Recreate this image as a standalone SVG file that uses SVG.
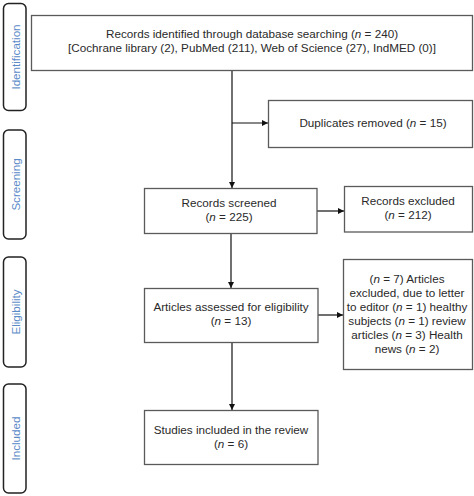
<svg xmlns="http://www.w3.org/2000/svg" width="474" height="496" viewBox="0 0 474 496">
<style>
.box{fill:#fff;stroke:#5a5a5a;stroke-width:1.3}
.side{fill:#fff;stroke:#222;stroke-width:1.5}
.t{font-family:"Liberation Sans",Arial,sans-serif;font-size:11.7px;fill:#2a2a2a;text-anchor:middle}
.s{font-family:"Liberation Sans",Arial,sans-serif;font-size:11.6px;fill:#5b8ac8;text-anchor:middle}
.c{stroke:#111;stroke-width:1.2;fill:none}
</style>
<defs>
<marker id="ah" viewBox="0 0 8 8" refX="8" refY="4" markerWidth="6" markerHeight="6" orient="auto" markerUnits="userSpaceOnUse">
<path d="M0,0 L8,4 L0,8 Z" fill="#111"/>
</marker>
</defs>
<g id="stage-identification">
<rect class="side" x="3.5" y="3.5" width="22.5" height="107" rx="5"/>
<text class="s" transform="translate(19.5,57) rotate(-90)">Identification</text>
</g>
<g id="stage-screening">
<rect class="side" x="3.5" y="130" width="22.5" height="109" rx="5"/>
<text class="s" transform="translate(19.5,184.5) rotate(-90)">Screening</text>
</g>
<g id="stage-eligibility">
<rect class="side" x="3.5" y="257" width="22.5" height="110" rx="5"/>
<text class="s" transform="translate(19.5,312) rotate(-90)">Eligibility</text>
</g>
<g id="stage-included">
<rect class="side" x="3.5" y="384" width="22.5" height="109" rx="5"/>
<text class="s" transform="translate(19.5,438.5) rotate(-90)">Included</text>
</g>
<g id="connectors">
<line class="c" x1="232" y1="70" x2="232" y2="188" marker-end="url(#ah)"/>
<line class="c" x1="232" y1="123" x2="268" y2="123" marker-end="url(#ah)"/>
<line class="c" x1="317" y1="211" x2="344" y2="211" marker-end="url(#ah)"/>
<line class="c" x1="231" y1="233" x2="231" y2="288" marker-end="url(#ah)"/>
<line class="c" x1="318" y1="315" x2="343" y2="315" marker-end="url(#ah)"/>
<line class="c" x1="232" y1="342" x2="232" y2="410" marker-end="url(#ah)"/>
</g>
<g id="records-identified">
<rect class="box" x="31.5" y="15.5" width="441" height="55"/>
<text class="t" x="252" y="38">Records identified through database searching (<tspan font-style="italic">n</tspan> = 240)</text>
<text class="t" x="252" y="52">[Cochrane library (2), PubMed (211), Web of Science (27), IndMED (0)]</text>
</g>
<g id="duplicates-removed">
<rect class="box" x="268.5" y="100.5" width="204" height="47"/>
<text class="t" x="373" y="127">Duplicates removed (<tspan font-style="italic">n</tspan> = 15)</text>
</g>
<g id="records-screened">
<rect class="box" x="144.5" y="188.5" width="172.5" height="45"/>
<text class="t" x="229" y="207">Records screened</text>
<text class="t" x="229" y="221">(<tspan font-style="italic">n</tspan> = 225)</text>
</g>
<g id="records-excluded">
<rect class="box" x="344.5" y="186.5" width="128" height="45.5"/>
<text class="t" x="408" y="205">Records excluded</text>
<text class="t" x="408" y="219">(<tspan font-style="italic">n</tspan> = 212)</text>
</g>
<g id="articles-assessed">
<rect class="box" x="144.5" y="288.5" width="173.5" height="54"/>
<text class="t" x="231" y="311">Articles assessed for eligibility</text>
<text class="t" x="231" y="325">(<tspan font-style="italic">n</tspan> = 13)</text>
</g>
<g id="articles-excluded">
<rect class="box" x="343.5" y="259.5" width="129" height="110"/>
<text class="t" x="407" y="283">(<tspan font-style="italic">n</tspan> = 7) Articles</text>
<text class="t" x="407" y="297">excluded, due to letter</text>
<text class="t" x="407" y="311">to editor (<tspan font-style="italic">n</tspan> = 1) healthy</text>
<text class="t" x="407" y="325">subjects (<tspan font-style="italic">n</tspan> = 1) review</text>
<text class="t" x="407" y="338.5">articles (<tspan font-style="italic">n</tspan> = 3) Health</text>
<text class="t" x="407" y="352.5">news (<tspan font-style="italic">n</tspan> = 2)</text>
</g>
<g id="studies-included">
<rect class="box" x="144.5" y="410.5" width="173.5" height="54"/>
<text class="t" x="231" y="434">Studies included in the review</text>
<text class="t" x="231" y="448">(<tspan font-style="italic">n</tspan> = 6)</text>
</g>
</svg>
